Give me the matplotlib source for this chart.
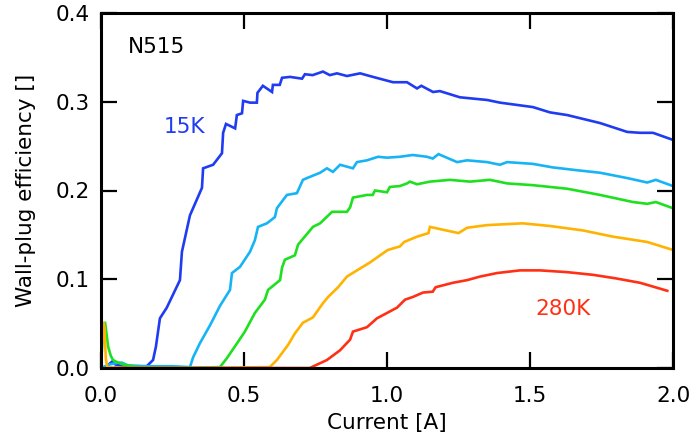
import matplotlib
matplotlib.use("Agg")
import matplotlib.pyplot as plt

# ---------------- data ----------------
current_15K = [0.0, 0.02, 0.038, 0.05, 0.08, 0.12, 0.16, 0.182, 0.192, 0.206, 0.230, 0.276,
               0.283, 0.311, 0.353, 0.357, 0.392, 0.423, 0.427, 0.437, 0.469, 0.475, 0.493,
               0.497, 0.521, 0.545, 0.547, 0.566, 0.598, 0.601, 0.625, 0.633, 0.661, 0.703,
               0.713, 0.740, 0.776, 0.800, 0.825, 0.860, 0.906, 0.951, 1.021, 1.07, 1.105,
               1.12, 1.161, 1.185, 1.255, 1.35, 1.395, 1.51, 1.57, 1.63, 1.745, 1.84,
               1.885, 1.93, 2.0]
wpe_15K = [0.0, 0.002, 0.007, 0.004, 0.002, 0.002, 0.002, 0.009, 0.024, 0.056, 0.068, 0.099,
           0.131, 0.172, 0.203, 0.225, 0.229, 0.242, 0.265, 0.275, 0.270, 0.285, 0.287,
           0.301, 0.299, 0.299, 0.310, 0.318, 0.311, 0.319, 0.319, 0.327, 0.328, 0.326,
           0.331, 0.330, 0.334, 0.330, 0.332, 0.329, 0.332, 0.328, 0.322, 0.322, 0.315,
           0.318, 0.311, 0.312, 0.305, 0.302, 0.299, 0.294, 0.288, 0.285, 0.276, 0.266,
           0.265, 0.265, 0.257]

current_80K = [0.0, 0.03, 0.06, 0.073, 0.094, 0.15, 0.25, 0.311, 0.322, 0.346, 0.381, 0.416,
               0.451, 0.458, 0.486, 0.521, 0.538, 0.549, 0.580, 0.608, 0.615, 0.650, 0.685,
               0.706, 0.720, 0.766, 0.790, 0.811, 0.836, 0.881, 0.895, 0.930, 0.969, 1.0,
               1.045, 1.09, 1.14, 1.16, 1.18, 1.245, 1.28, 1.35, 1.395, 1.42, 1.51, 1.58,
               1.66, 1.745, 1.84, 1.91, 1.94, 2.0]
wpe_80K = [0.0, 0.004, 0.006, 0.006, 0.003, 0.002, 0.002, 0.001, 0.012, 0.028, 0.048, 0.070,
           0.088, 0.107, 0.114, 0.131, 0.144, 0.159, 0.163, 0.170, 0.180, 0.195, 0.197,
           0.212, 0.214, 0.220, 0.225, 0.221, 0.229, 0.225, 0.232, 0.234, 0.238, 0.237,
           0.238, 0.240, 0.238, 0.236, 0.241, 0.232, 0.234, 0.232, 0.229, 0.232, 0.230, 0.226,
           0.223, 0.220, 0.214, 0.209, 0.212, 0.205]

current_150K = [0.0, 0.007, 0.014, 0.025, 0.034, 0.042, 0.06, 0.077, 0.094, 0.13, 0.25, 0.416,
                0.440, 0.476, 0.503, 0.538, 0.573, 0.584, 0.626, 0.633, 0.643, 0.678, 0.689,
                0.741, 0.766, 0.808, 0.860, 0.871, 0.881, 0.930, 0.950, 0.958, 1.0, 1.01,
                1.045, 1.07, 1.08, 1.105, 1.15, 1.22, 1.29, 1.36, 1.42, 1.51, 1.63, 1.745,
                1.86, 1.91, 1.94, 2.0]
wpe_150K = [0.0, 0.045, 0.052, 0.024, 0.014, 0.009, 0.006, 0.004, 0.003, 0.001, 0.0, 0.001,
            0.011, 0.028, 0.041, 0.062, 0.077, 0.088, 0.099, 0.113, 0.122, 0.127, 0.139,
            0.159, 0.163, 0.176, 0.176, 0.181, 0.192, 0.195, 0.195, 0.200, 0.198, 0.204,
            0.205, 0.208, 0.210, 0.207, 0.210, 0.212, 0.210, 0.212, 0.208, 0.206, 0.202,
            0.195, 0.187, 0.185, 0.187, 0.180]

current_220K = [0.0, 0.004, 0.008, 0.012, 0.017, 0.022, 0.1, 0.3, 0.59, 0.615, 0.654, 0.678,
                0.706, 0.741, 0.776, 0.794, 0.829, 0.860, 0.895, 0.941, 0.976, 1.003, 1.045,
                1.06, 1.105, 1.145, 1.15, 1.25, 1.28, 1.35, 1.475, 1.57, 1.685, 1.79, 1.91,
                2.0]
wpe_220K = [0.0, 0.030, 0.052, 0.045, 0.010, 0.001, 0.0, 0.0, 0.001, 0.009, 0.026, 0.039,
            0.051, 0.057, 0.073, 0.080, 0.091, 0.103, 0.110, 0.119, 0.127, 0.133, 0.137,
            0.142, 0.148, 0.152, 0.159, 0.152, 0.158, 0.161, 0.163, 0.160, 0.155, 0.148,
            0.142, 0.133]

current_280K = [0.05, 0.3, 0.73, 0.79, 0.836, 0.871, 0.881, 0.930, 0.965, 1.0, 1.035, 1.063,
                1.09, 1.126, 1.16, 1.17, 1.23, 1.28, 1.325, 1.385, 1.465, 1.535, 1.63, 1.72,
                1.80, 1.885, 1.98]
wpe_280K = [0.0, 0.0, 0.0, 0.009, 0.020, 0.032, 0.041, 0.046, 0.056, 0.062, 0.068, 0.077,
            0.080, 0.085, 0.086, 0.091, 0.096, 0.099, 0.103, 0.107, 0.110, 0.110, 0.108,
            0.105, 0.101, 0.096, 0.087]

series_colors = ["#1f3cf2", "#17b4f5", "#1fe01f", "#ffb300", "#ff3014"]

x_ticks = [0.0, 0.5, 1.0, 1.5, 2.0]
x_tick_labels = ["0.0", "0.5", "1.0", "1.5", "2.0"]
y_ticks = [0.0, 0.1, 0.2, 0.3, 0.4]
y_tick_labels = ["0.0", "0.1", "0.2", "0.3", "0.4"]

# ---------------- figure ----------------
plt.rcParams["font.family"] = ["DejaVu Sans"]
fig = plt.figure(figsize=(6.94, 4.43), dpi=100)
ax = fig.add_axes([101 / 694, 75 / 443, 572 / 694, 355 / 443])

series = [(current_15K, wpe_15K), (current_80K, wpe_80K), (current_150K, wpe_150K),
          (current_220K, wpe_220K), (current_280K, wpe_280K)]
for (cx, cy), col in zip(series, series_colors):
    ax.plot(cx, cy, color=col, lw=1.9, solid_joinstyle="miter", clip_on=True)

ax.set_xlim(0, 2.0)
ax.set_ylim(0, 0.4)
ax.set_xticks(x_ticks)
ax.set_xticklabels(x_tick_labels)
ax.set_yticks(y_ticks)
ax.set_yticklabels(y_tick_labels)
ax.tick_params(direction="in", length=11.5, width=1.6, labelsize=15.5,
               top=True, right=True)
ax.tick_params(axis="x", pad=13)
ax.tick_params(axis="y", pad=8)
for sp in ax.spines.values():
    sp.set_linewidth(2.2)

ax.set_xlabel("Current [A]", fontsize=15.5, labelpad=5)
ax.set_ylabel("Wall-plug efficiency []", fontsize=15.5, labelpad=14)

ax.text(0.195, 0.362, "N515", fontsize=15.5, color="black", ha="center", va="center")
ax.text(0.29, 0.272, "15K", fontsize=15.5, color=series_colors[0], ha="center", va="center")
ax.text(1.615, 0.067, "280K", fontsize=15.5, color=series_colors[4], ha="center", va="center")

fig.savefig("out.png", dpi=100)
